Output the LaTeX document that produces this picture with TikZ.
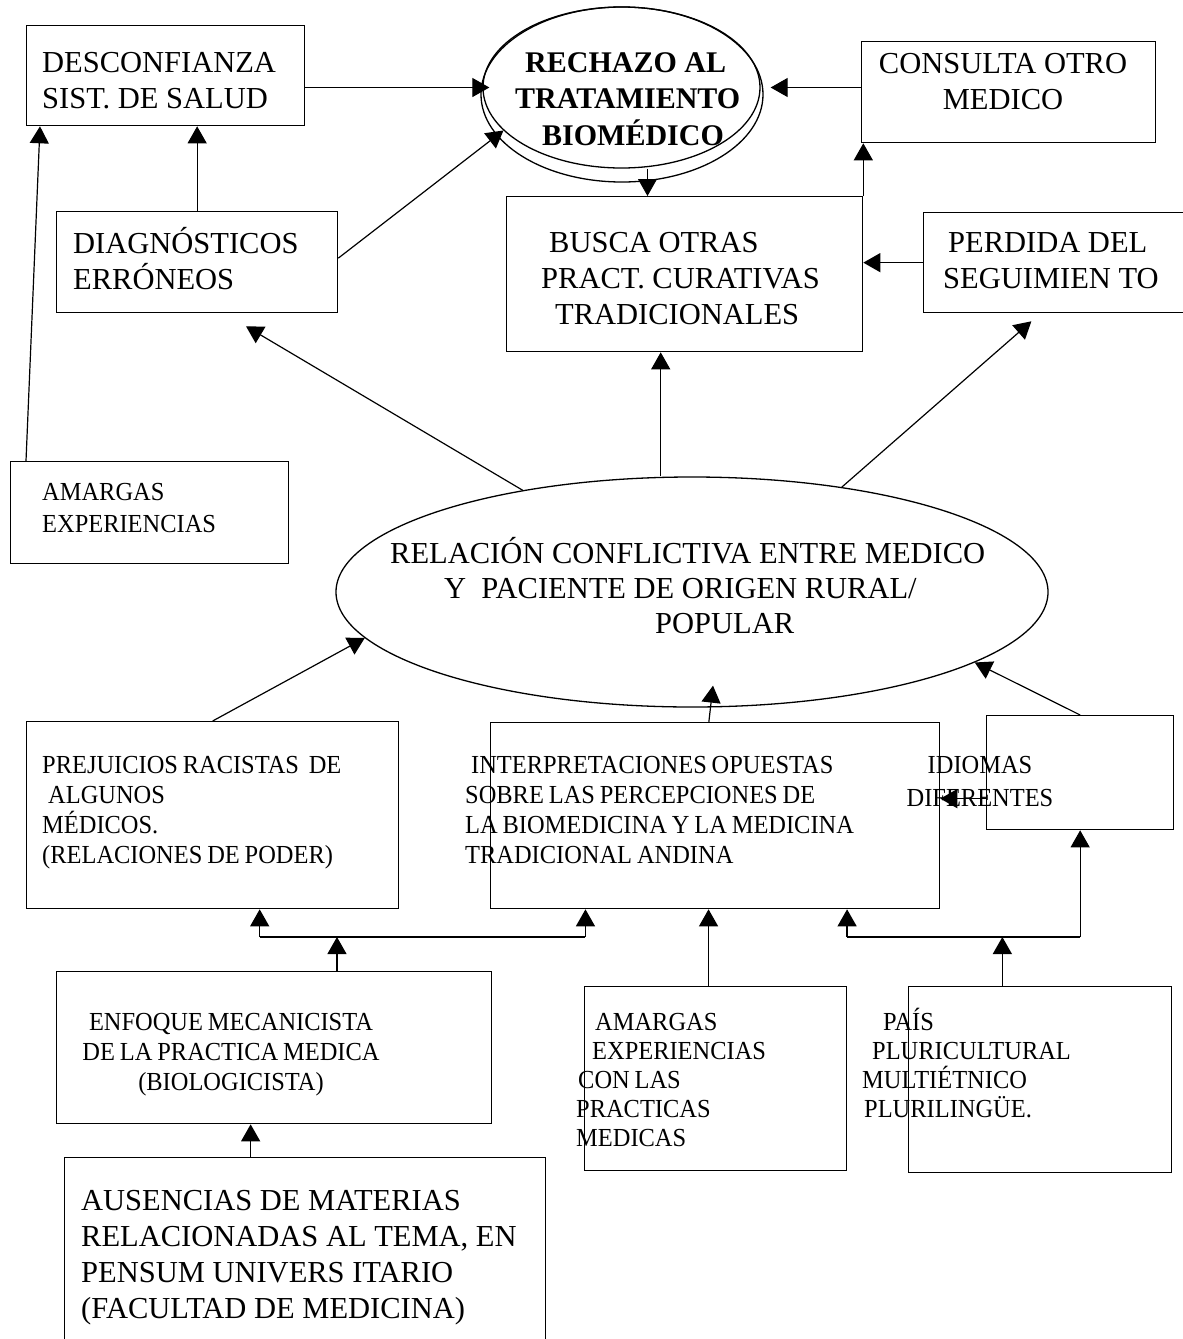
\documentclass[tikz,border=0pt]{standalone}
\usepackage{fontspec}
\setmainfont{Liberation Serif}
\newfontfamily\narrowserif[FakeStretch=0.94,WordSpace=0.8]{Liberation Serif}
\usetikzlibrary{arrows.meta, calc, shapes.geometric}
\newcommand{\firstline}{\rule{0pt}{1em}}

\begin{document}
\begin{tikzpicture}[
  x=1pt, y=1pt,
  box/.style={draw, rectangle, line width=1.3pt, anchor=north west, inner sep=0pt},
  oval/.style={draw, ellipse, line width=1.3pt, inner sep=0pt},
  bigtxt/.style={font=\fontsize{30.5}{36}\selectfont, anchor=north west, align=left, inner sep=0pt},
  smalltxt/.style={font=\narrowserif\fontsize{26}{30}\selectfont, anchor=north west, align=left, inner sep=0pt},
  arr/.style={-{Triangle[length=17pt,width=19pt]}, line width=1.2pt},
  link/.style={line width=1.2pt},
]
\useasboundingbox (0,0) rectangle (1183,-1339);

% boxes
\node[box, minimum width=278pt, minimum height=100pt] (desc) at (26,-25) {};
\node[box, minimum width=294pt, minimum height=101pt] (cons) at (861,-41) {};
\node[box, minimum width=281pt, minimum height=101pt] (diag) at (56,-211) {};
\node[box, minimum width=356pt, minimum height=155pt] (busc) at (506,-196) {};
\node[box, minimum width=265pt, minimum height=100pt] (perd) at (923,-212) {};
\node[box, minimum width=278pt, minimum height=102pt] (amarA) at (10,-461) {};
\node[box, minimum width=372pt, minimum height=187pt] (prej) at (26,-721) {};
\node[box, minimum width=449pt, minimum height=186pt] (inter) at (490,-722) {};
\node[box, minimum width=187pt, minimum height=114pt] (idio) at (986,-715) {};
\node[box, minimum width=435pt, minimum height=152pt] (enfo) at (56,-971) {};
\node[box, minimum width=262pt, minimum height=184pt] (amarB) at (584,-986) {};
\node[box, minimum width=263pt, minimum height=186pt] (pais) at (908,-986) {};
\node[box, minimum width=481pt, minimum height=200pt] (ause) at (64,-1157) {};

% ellipses
\node[oval, minimum width=282pt, minimum height=175pt] (rechB) at (622,-94.5) {};
\node[oval, minimum width=277pt, minimum height=161pt] (rech) at (621.5,-87.5) {};
\node[oval, minimum width=712pt, minimum height=230pt] (rel) at (692,-592) {};

% texts
\node[bigtxt] (descT) at (42,-42) {\firstline DESCONFIANZA\\SIST. DE SALUD};
\node[bigtxt, font=\bfseries\fontsize{30}{36.5}\selectfont] (rechT) at (515,-42)
  {\firstline\hspace*{10pt}RECHAZO AL\\TRATAMIENTO\\\hspace*{27pt}BIOMÉDICO};
\node[bigtxt, anchor=north, align=center] (consT) at (1003,-43) {\firstline CONSULTA OTRO\\MEDICO};
\node[bigtxt] (diagT) at (73,-223) {\firstline DIAGNÓSTICOS\\ERRÓNEOS};
\node[bigtxt] (buscT) at (541,-222)
  {\firstline\hspace*{8pt}BUSCA OTRAS\\PRACT. CURATIVAS\\\hspace*{14pt}TRADICIONALES};
\node[bigtxt] (perdT) at (943,-222) {\firstline\hspace*{5pt}PERDIDA DEL\\SEGUIMIEN TO};
\node[bigtxt, font=\fontsize{30.5}{35}\selectfont] (relT) at (390,-533)
  {\firstline RELACIÓN CONFLICTIVA ENTRE MEDICO\\\hspace*{54pt}Y\ \ PACIENTE DE ORIGEN RURAL/\\\hspace*{265pt}POPULAR};
\node[bigtxt] (auseT) at (81,-1180)
  {\firstline AUSENCIAS DE MATERIAS\\RELACIONADAS AL TEMA, EN\\PENSUM UNIVERS ITARIO\\(FACULTAD DE MEDICINA)};
\node[smalltxt, font=\narrowserif\fontsize{26}{32}\selectfont] (amarAT) at (42,-474) {\firstline AMARGAS\\EXPERIENCIAS};
\node[smalltxt] (prejT) at (42,-747)
  {\firstline PREJUICIOS RACISTAS\ \ DE\\\hspace*{6pt}ALGUNOS\\MÉDICOS.\\(RELACIONES DE PODER)};
\node[smalltxt] (interT) at (465,-747)
  {\firstline\hspace*{6pt}INTERPRETACIONES OPUESTAS\\SOBRE LAS PERCEPCIONES DE\\LA BIOMEDICINA Y LA MEDICINA\\TRADICIONAL ANDINA};
\node[smalltxt, anchor=north, align=center, font=\narrowserif\fontsize{26}{33}\selectfont] (idioT) at (980,-747)
  {\firstline IDIOMAS\\DIFERENTES};
\node[smalltxt, anchor=north, align=center] (enfoT) at (231,-1004)
  {\firstline ENFOQUE MECANICISTA\\DE LA PRACTICA MEDICA\\(BIOLOGICISTA)};
\node[smalltxt, font=\narrowserif\fontsize{26}{29}\selectfont] (amarBT) at (576,-1004)
  {\firstline\hspace*{19pt}AMARGAS\\\hspace*{16pt}EXPERIENCIAS\\\hspace*{2pt}CON LAS\\PRACTICAS\\MEDICAS};
\node[smalltxt, font=\narrowserif\fontsize{26}{29}\selectfont] (paisT) at (862,-1004)
  {\firstline\hspace*{21pt}PAÍS\\\hspace*{10pt}PLURICULTURAL\\MULTIÉTNICO\\\hspace*{2pt}PLURILINGÜE.};

% upper connectors
\draw[arr] (desc.east |- rech.west) -- ([xshift=7pt]rech.west);
\draw[arr] (diag.north) -- (diag.north |- desc.south);
\draw[arr] ([yshift=4pt]diag.east) -- (rech.200);
\draw[arr] (cons.west |- rech.east) -- ([xshift=10pt]rech.east);
\coordinate (buscIn) at ($(busc.north west)!0.396!(busc.north east)$);
\draw[arr, line width=0.8pt] (rech.south -| buscIn) -- (buscIn);
\draw[arr] (busc.north east) -- (busc.north east |- cons.south);
\draw[arr] (perd.west) -- (perd.west -| busc.east);
\draw[arr] ([xshift=16pt]amarA.north west) -- ([xshift=14pt]desc.south west);

% out of the central ellipse
\draw[arr] (rel.149) -- ($(diag.south west)!0.673!(diag.south east)+(0,-13)$);
\coordinate (buscOut) at ($(busc.south west)!0.433!(busc.south east)$);
\draw[arr] (rel.north -| buscOut) -- (buscOut);
\draw[arr] (rel.35) -- ($(perd.south west)!0.407!(perd.south east)+(0,-8)$);

% into the central ellipse
\draw[arr] (prej.north) -- (rel.188);
\coordinate (interIn) at ($(inter.north west)!0.486!(inter.north east)$);
\draw[arr] (interIn) -- ([xshift=21pt,yshift=22pt]rel.south);
\draw[arr] (idio.north) -- (rel.346);
\draw[arr] ([yshift=-26pt]idio.west) -- ([yshift=-26pt]idio.west -| inter.east);

% lower connectors
\coordinate (enfoOut) at ($(enfo.north west)!0.644!(enfo.north east)$);
\coordinate (barL) at ([yshift=34pt]enfoOut);
\coordinate (prejIn) at ($(prej.south west)!0.626!(prej.south east)$);
\coordinate (interInL) at ($(inter.south west)!0.212!(inter.south east)$);
\draw[arr] (enfoOut) -- (barL);
\draw[link] (barL -| prejIn) -- (barL -| interInL);
\draw[arr] (barL -| prejIn) -- (prejIn);
\draw[arr] (barL -| interInL) -- (interInL);
\coordinate (amarBOut) at ($(amarB.north west)!0.473!(amarB.north east)$);
\draw[arr] (amarBOut) -- (amarBOut |- inter.south);
\coordinate (paisOut) at ($(pais.north west)!0.357!(pais.north east)$);
\coordinate (barR) at ([yshift=49pt]paisOut);
\coordinate (interInR) at ($(inter.south west)!0.793!(inter.south east)$);
\draw[arr] (paisOut) -- (barR);
\draw[link] (barR -| interInR) -- (barR -| idio.south);
\draw[arr] (barR -| interInR) -- (interInR);
\draw[arr] (barR -| idio.south) -- (idio.south);
\coordinate (auseOut) at ($(ause.north west)!0.387!(ause.north east)$);
\draw[arr] (auseOut) -- (auseOut |- enfo.south);
\end{tikzpicture}
\end{document}
